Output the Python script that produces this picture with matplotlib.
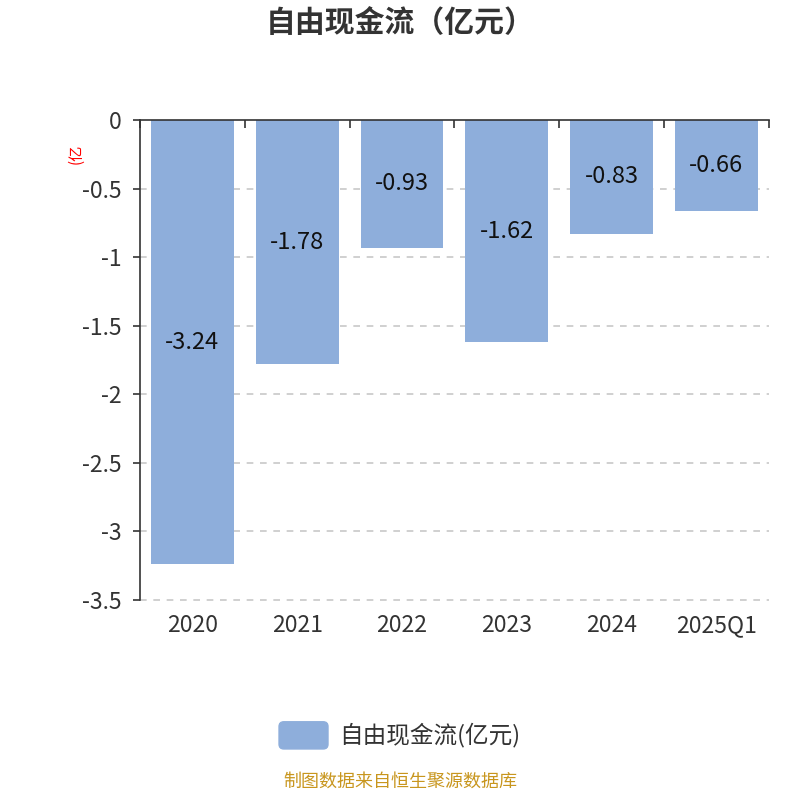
import numpy as np
import matplotlib.pyplot as plt
from matplotlib.patches import FancyBboxPatch

plt.rcParams['font.family'] = ['Noto Sans CJK SC', 'DejaVu Sans']

categories = ['2020', '2021', '2022', '2023', '2024', '2025Q1']
values = [-3.24, -1.78, -0.93, -1.62, -0.83, -0.66]
yticks = [0, -0.5, -1, -1.5, -2, -2.5, -3, -3.5]
ytick_labels = ['0', '-0.5', '-1', '-1.5', '-2', '-2.5', '-3', '-3.5']

bar_color = '#8eaedb'
text_color = '#333333'


def main():
    fig = plt.figure(figsize=(8, 8), dpi=100)
    ax = fig.add_axes([0.175, 0.25, 0.786, 0.60])

    x = np.arange(len(categories))
    ax.bar(x, values, width=0.79, color=bar_color, zorder=2)
    for xi, v in zip(x, values):
        ax.text(xi, v / 2, '%.2f' % v, ha='center', va='center',
                fontsize=17, color='#111111', zorder=3)

    ax.set_xlim(-0.5, len(categories) - 0.5)
    ax.set_ylim(-3.5, 0)
    ax.set_yticks(yticks)
    ax.set_yticklabels(ytick_labels, fontsize=16.5, color=text_color)
    for t in yticks[1:]:
        ax.axhline(t, color='#c8c8c8', lw=1.2, ls=(0, (4, 4)), zorder=1,
                   clip_on=False)

    # x axis line sits on zero at top, ticks at category boundaries
    ax.spines['right'].set_visible(False)
    ax.spines['bottom'].set_visible(False)
    ax.spines['top'].set_color(text_color)
    ax.spines['left'].set_color(text_color)
    ax.spines['top'].set_linewidth(1.2)
    ax.spines['left'].set_linewidth(1.2)
    ax.tick_params(axis='y', length=5, width=1.2, color=text_color, pad=8)
    ax.set_xticks(np.arange(len(categories) + 1) - 0.5, minor=True)
    ax.set_xticks([])
    ax.tick_params(axis='x', which='minor', top=True, bottom=False,
                   direction='in', length=6, width=1.2, color=text_color)
    for xi, c in zip(x, categories):
        ax.text(xi, -3.5 - 0.1, c, ha='center', va='top',
                fontsize=16.5, color=text_color)

    fig.text(0.095, 0.808, '(亿', rotation=90, color='red', fontsize=11,
             ha='center', va='center')

    fig.text(0.5, 0.971, '自由现金流（亿元）', ha='center', va='center',
             fontsize=21.5, fontweight='bold', color=text_color)

    # legend
    patch = FancyBboxPatch((0.3488, 0.0638), 0.0612, 0.034,
                           boxstyle='round,pad=0,rounding_size=0.006',
                           transform=fig.transFigure, color=bar_color)
    fig.patches.append(patch)
    fig.text(0.424, 0.0815, '自由现金流(亿元)', ha='left', va='center',
             fontsize=17, color=text_color)

    fig.text(0.5, 0.0225, '制图数据来自恒生聚源数据库', ha='center', va='center',
             fontsize=13, color='#c8961e')

    fig.savefig('out.png', dpi=100)


if __name__ == '__main__':
    main()
